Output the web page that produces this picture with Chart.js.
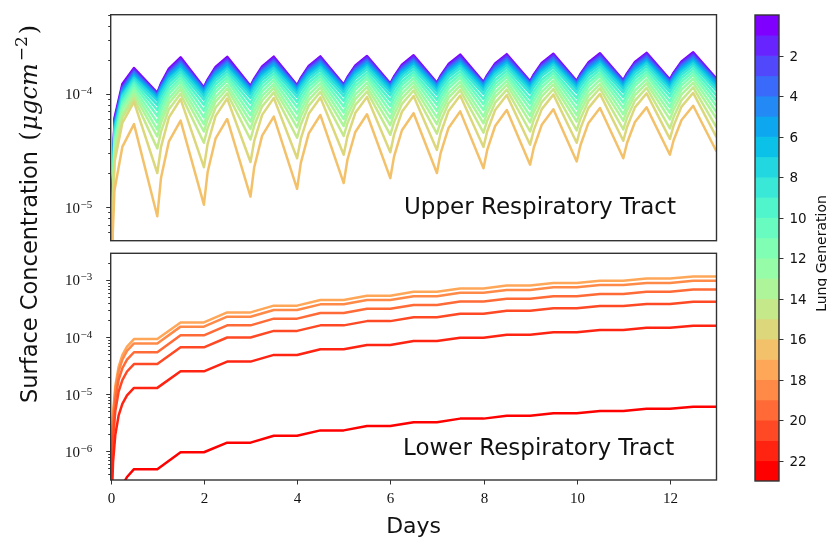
<!DOCTYPE html>
<html>
<head>
<meta charset="utf-8">
<script src="https://cdn.jsdelivr.net/npm/chart.js@4.4.1/dist/chart.umd.min.js"></script>
<style>
  html, body { margin: 0; padding: 0; background: #fff; }
  #wrap { position: relative; width: 827px; height: 539px; }
  #wrap canvas { position: absolute; left: 0; top: 0; }
</style>
</head>
<body>
<div id="wrap">
  <canvas id="upper" width="827" height="539"></canvas>
  <canvas id="lower" width="827" height="539"></canvas>
  <canvas id="cbar" width="827" height="539"></canvas>
</div>
<script>
// all series values are written in units of 1e-6 ug cm^-2
const UNIT = 1e-6;

// lung generations shown in the colour bar, and its tick labels
const generations = [0, 1, 2, 3, 4, 5, 6, 7, 8, 9, 10, 11, 12, 13, 14, 15, 16, 17, 18, 19, 20, 21, 22];
const cbarTicks = [2, 4, 6, 8, 10, 12, 14, 16, 18, 20, 22];

// axis tick labels
const dayTicks = [0, 2, 4, 6, 8, 10, 12];
const upperTickExp = [-5, -4];
const lowerTickExp = [-6, -5, -4, -3];

// ---- upper respiratory tract (generations 0-16) ----
// each day: trough, two points on the rise, peak
const upperDays = [0, 0.08, 0.25, 0.5,
  1, 1.08, 1.25, 1.5,  2, 2.08, 2.25, 2.5,  3, 3.08, 3.25, 3.5,  4, 4.08, 4.25, 4.5,
  5, 5.08, 5.25, 5.5,  6, 6.08, 6.25, 6.5,  7, 7.08, 7.25, 7.5,  8, 8.08, 8.25, 8.5,
  9, 9.08, 9.25, 9.5,  10, 10.08, 10.25, 10.5,  11, 11.08, 11.25, 11.5,  12, 12.08, 12.25, 12.5,
  13];

const upperGen0 = [2, 61, 122, 169,
  102, 123.6, 166.8, 210,  114, 133.6, 172.8, 212,  117, 136.2, 174.6, 213,  119, 138, 176, 214,
  121, 140, 178, 216,  123, 142.2, 180.6, 219,  125, 144.4, 183.2, 222,  127, 146.4, 185.2, 224,
  129, 148.4, 187.2, 226,  130, 149.6, 188.8, 228,  132, 151.6, 190.8, 230,  134, 153.8, 193.4, 233,
  136];
const upperGen1 = [2, 57.4, 116.4, 164,
  100.5, 120.8, 161.4, 202,  112.5, 130.8, 167.4, 204,  115.5, 133.6, 169.8, 206,  117.5, 135.8, 172.4, 209,
  119.5, 137.8, 174.4, 211,  121.5, 139.8, 176.4, 213,  123.5, 141.8, 178.4, 215,  125.5, 144, 181, 218,
  127, 145.6, 182.8, 220,  128, 146.8, 184.4, 222,  130, 148.8, 186.4, 224,  132, 150.8, 188.4, 226,
  134];
const upperGen2 = [2, 55.7, 112.9, 159,
  99, 118.4, 157.2, 196,  111, 128.4, 163.2, 198,  114, 131.2, 165.6, 200,  116, 133.2, 167.6, 202,
  118, 135.2, 169.6, 204,  120, 137.2, 171.6, 206,  122, 139.2, 173.6, 208,  124, 141.4, 176.2, 211,
  125.5, 143, 178, 213,  126.5, 144.2, 179.6, 215,  128, 145.8, 181.4, 217,  129.5, 147.4, 183.2, 219,
  131.5];
const upperGen3 = [2, 54.6, 110.8, 156,
  97.5, 116, 153, 190,  109, 125.6, 158.8, 192,  112, 128.4, 161.2, 194,  114, 130.4, 163.2, 196,
  116, 132.4, 165.2, 198,  118, 134.4, 167.2, 200,  120, 136.4, 169.2, 202,  121.5, 138, 171, 204,
  123, 139.8, 173.4, 207,  124, 141, 175, 209,  125.5, 142.6, 176.8, 211,  127, 144.2, 178.6, 213,
  129];
const upperGen4 = [2, 52.9, 107.2, 151,
  96, 113.6, 148.8, 184,  107, 122.8, 154.4, 186,  110, 125.6, 156.8, 188,  112, 127.6, 158.8, 190,
  114, 129.6, 160.8, 192,  116, 131.6, 162.8, 194,  118, 133.6, 164.8, 196,  119.5, 135.2, 166.6, 198,
  121, 136.8, 168.4, 200,  122, 138, 170, 202,  123, 139.2, 171.6, 204,  124.5, 140.8, 173.4, 206,
  126.5];
const upperGen5 = [2, 51.5, 104.4, 147,
  94, 111, 145, 179,  104, 119.4, 150.2, 181,  107.5, 122.6, 152.8, 183,  109.5, 124.4, 154.2, 184,
  111.5, 126.4, 156.2, 186,  113.5, 128.4, 158.2, 188,  115, 130, 160, 190,  116.5, 131.6, 161.8, 192,
  118, 133.2, 163.6, 194,  119, 134.4, 165.2, 196,  120, 135.6, 166.8, 198,  121, 136.8, 168.4, 200,
  123];
const upperGen6 = [2, 49.7, 100.8, 142,
  91, 107, 139, 171,  101, 115.4, 144.2, 173,  104, 118.2, 146.6, 175,  106, 120.4, 149.2, 178,
  108, 122.4, 151.2, 180,  110, 124.4, 153.2, 182,  111.5, 126, 155, 184,  113, 127.6, 156.8, 186,
  114, 128.8, 158.4, 188,  115, 130, 160, 190,  116, 131.2, 161.6, 192,  117, 132.4, 163.2, 194,
  119];
const upperGen7 = [2, 48.3, 98, 138,
  87, 102.6, 133.8, 165,  96, 110.2, 138.6, 167,  99, 113, 141, 169,  101, 115, 143, 171,
  103, 117, 145, 173,  104.5, 118.6, 146.8, 175,  106, 120.2, 148.6, 177,  107.5, 121.8, 150.4, 179,
  108.5, 123, 152, 181,  109.5, 124.2, 153.6, 183,  110.5, 125.4, 155.2, 185,  111.5, 126.4, 156.2, 186,
  113];
const upperGen8 = [2, 46.2, 93.7, 132,
  80, 95.2, 125.6, 156,  89, 102.8, 130.4, 158,  92, 105.6, 132.8, 160,  94, 107.6, 134.8, 162,
  95.5, 109.2, 136.6, 164,  97, 110.8, 138.4, 166,  98.5, 112.4, 140.2, 168,  100, 114, 142, 170,
  101, 115.2, 143.6, 172,  102, 116.2, 144.6, 173,  103, 117.4, 146.2, 175,  104, 118.6, 147.8, 177,
  106];
const upperGen9 = [2, 41.6, 86.9, 126,
  72, 87, 117, 147,  80, 93.8, 121.4, 149,  83, 96.6, 123.8, 151,  85, 98.4, 125.2, 152,
  86.5, 100, 127, 154,  87.5, 101.2, 128.6, 156,  89, 102.8, 130.4, 158,  90, 104, 132, 160,
  91, 105, 133, 161,  92, 106.2, 134.6, 163,  93.5, 107.8, 136.4, 165,  95, 109.4, 138.2, 167,
  96.5];
const upperGen10 = [2, 39.6, 82.8, 120,
  64, 78.8, 108.4, 138,  71, 84.8, 112.4, 140,  74, 87.6, 114.8, 142,  76, 89.4, 116.2, 143,
  77.5, 91, 118, 145,  78.5, 92.2, 119.6, 147,  80, 93.6, 120.8, 148,  81, 94.8, 122.4, 150,
  82, 96, 124, 152,  83, 97, 125, 153,  84, 98.2, 126.6, 155,  85.5, 99.8, 128.4, 157,
  87];
const upperGen11 = [2, 37, 77.3, 112,
  56, 70.6, 99.8, 129,  62, 75.8, 103.4, 131,  65, 78.4, 105.2, 132,  67, 80.4, 107.2, 134,
  68.5, 82, 109, 136,  69.5, 83, 110, 137,  71, 84.6, 111.8, 139,  72, 85.8, 113.4, 141,
  73, 86.8, 114.4, 142,  74, 88, 116, 144,  75, 89.2, 117.6, 146,  76.5, 90.6, 118.8, 147,
  78];
const upperGen12 = [2, 35, 73.1, 106,
  48.5, 62.6, 90.8, 119,  54, 67.2, 93.6, 120,  57, 70, 96, 122,  58.5, 71.6, 97.8, 124,
  60, 73, 99, 125,  61, 74.2, 100.6, 127,  62, 75.2, 101.6, 128,  63, 76.4, 103.2, 130,
  64, 77.4, 104.2, 131,  65, 78.6, 105.8, 133,  66, 79.6, 106.8, 134,  68, 81.6, 108.8, 136,
  69];
const upperGen13 = [2, 30.7, 66.3, 99,
  42, 55.6, 82.8, 110,  46.5, 59.4, 85.2, 111,  49, 61.8, 87.4, 113,  50.5, 63.2, 88.6, 114,
  52, 64.6, 89.8, 115,  53, 65.8, 91.4, 117,  54, 66.8, 92.4, 118,  55, 68, 94, 120,
  56, 69, 95, 121,  57, 70, 96, 122,  58, 71.2, 97.6, 124,  59.5, 72.6, 98.8, 125,
  60.5];
const upperGen14 = [2, 28.5, 61.6, 92,
  33, 46.4, 73.2, 100,  37, 49.8, 75.4, 101,  39.5, 52.2, 77.6, 103,  41, 53.6, 78.8, 104,
  42.5, 55, 80, 105,  43.5, 56.2, 81.6, 107,  44.5, 57.2, 82.6, 108,  45.5, 58.2, 83.6, 109,
  46.5, 59.2, 84.6, 110,  47.5, 60.4, 86.2, 112,  48.5, 61.4, 87.2, 113,  49.5, 62.4, 88.2, 114,
  50.5];
const upperGen15 = [2, 24.7, 55.3, 85,
  20, 34, 62, 90,  22.5, 36.2, 63.6, 91,  25, 38.4, 65.2, 92,  27, 40.2, 66.6, 93,
  29, 42, 68, 94,  30.5, 43.5, 69.5, 95.5,  32, 44.9, 70.7, 96.5,  34, 46.7, 72.1, 97.5,
  35.5, 48.1, 73.3, 98.5,  37, 49.6, 74.8, 100,  38.5, 51, 76, 101,  40, 52.4, 77.2, 102,
  41.5];
const upperGen16 = [2, 14, 34, 54,
  8.3, 18.2, 38.1, 58,  10.5, 20.4, 40.2, 60,  12.4, 22.5, 42.8, 63,  14.5, 24.6, 44.8, 65,
  16.3, 26.2, 46.1, 66,  18, 27.9, 47.7, 67.5,  20, 30, 50, 70,  22, 32, 52, 72,
  23.7, 33.6, 53.3, 73,  25.3, 35.2, 55.1, 75,  27, 36.8, 56.4, 76,  29, 38.9, 58.7, 78.5,
  31];

const upperSeries = [upperGen0, upperGen1, upperGen2, upperGen3, upperGen4, upperGen5,
  upperGen6, upperGen7, upperGen8, upperGen9, upperGen10, upperGen11, upperGen12,
  upperGen13, upperGen14, upperGen15, upperGen16];

// ---- lower respiratory tract (generations 17-22) ----
const lowerRiseDays = [0, 0.02, 0.05, 0.1, 0.17, 0.25, 0.35];
const plateauStart = [0.5, 1.5, 2.5, 3.5, 4.5, 5.5, 6.5, 7.5, 8.5, 9.5, 10.5, 11.5, 12.5];
const plateauEnd = [1, 2, 3, 4, 5, 6, 7, 8, 9, 10, 11, 12, 13];

const lowerRise17 = [0.01, 0.8, 4.5, 14, 30, 48, 68];
const lowerRise18 = [0.01, 0.67, 3.8, 11.8, 25, 40, 57];
const lowerRise19 = [0.01, 0.47, 2.65, 8.3, 17.7, 28.3, 40];
const lowerRise20 = [0.005, 0.29, 1.64, 5.1, 11, 17.5, 24.8];
const lowerRise21 = [0.002, 0.11, 0.63, 1.95, 4.2, 6.7, 9.45];
const lowerRise22 = [0.0001, 0.004, 0.023, 0.073, 0.156, 0.25, 0.35];

const lowerPlateau17 = [92, 180, 270, 355, 445, 530, 620, 710, 800, 885, 970, 1060, 1150];
const lowerPlateau18 = [77, 152, 227, 298, 374, 445, 520, 595, 670, 745, 815, 890, 970];
const lowerPlateau19 = [54, 107, 160, 210, 263, 313, 365, 420, 470, 520, 570, 625, 680];
const lowerPlateau20 = [33.5, 66, 98, 128, 160, 190, 223, 255, 288, 318, 350, 380, 415];
const lowerPlateau21 = [12.8, 25, 37, 48.5, 61, 72.5, 85, 97, 110, 121, 133, 145, 158];
const lowerPlateau22 = [0.48, 0.95, 1.4, 1.85, 2.3, 2.75, 3.2, 3.7, 4.15, 4.6, 5.05, 5.5, 6.0];

const lowerRises = [lowerRise17, lowerRise18, lowerRise19, lowerRise20, lowerRise21, lowerRise22];
const lowerPlateaus = [lowerPlateau17, lowerPlateau18, lowerPlateau19, lowerPlateau20, lowerPlateau21, lowerPlateau22];

// matplotlib "rainbow" colormap
function rainbow(t) {
  const r = Math.min(1, Math.abs(2 * t - 0.5));
  const g = Math.sin(Math.PI * t);
  const b = Math.cos(Math.PI * t / 2);
  return `rgb(${Math.round(r * 255)},${Math.round(g * 255)},${Math.round(b * 255)})`;
}
const genColor = g => rainbow(g / 22);

function lineDataset(days, values, gen) {
  return {
    data: days.map((d, i) => ({ x: d, y: values[i] * UNIT })),
    borderColor: genColor(gen),
    borderWidth: 2.5,
    borderJoinStyle: 'round',
    pointRadius: 0,
    tension: 0,
    fill: false,
    order: -gen
  };
}

const upperSets = upperSeries.map((vals, i) => lineDataset(upperDays, vals, generations[i]));

const lowerSets = lowerPlateaus.map((plat, i) => {
  const days = lowerRiseDays.slice();
  const vals = lowerRises[i].slice();
  plat.forEach((v, k) => {
    days.push(plateauStart[k], plateauEnd[k]);
    vals.push(v, v);
  });
  return lineDataset(days, vals, generations[17 + i]);
});

const INK = '#111';
const FRAME = '#333';
const SANS = "'DejaVu Sans'";
const SERIF = "'Liberation Serif'";

// frame, log ticks, panel caption and shared axis titles
const panelDecor = {
  id: 'panelDecor',
  afterDraw(chart, args, opts) {
    const { ctx, chartArea: a, scales } = chart;
    const y = scales.y, x = scales.x;
    ctx.save();

    // y ticks (major + minor), outward
    ctx.strokeStyle = FRAME;
    ctx.lineWidth = 1;
    const lo = Math.floor(Math.log10(y.min)), hi = Math.ceil(Math.log10(y.max));
    for (let e = lo; e <= hi; e++) {
      for (let m = 1; m <= 9; m++) {
        const v = m * Math.pow(10, e);
        if (v < y.min || v > y.max) continue;
        const py = Math.round(y.getPixelForValue(v)) + 0.5;
        const len = m === 1 ? 4.5 : 2.5;
        ctx.beginPath();
        ctx.moveTo(a.left - len, py);
        ctx.lineTo(a.left, py);
        ctx.stroke();
      }
    }

    // y tick labels as 10^n
    ctx.fillStyle = INK;
    ctx.textBaseline = 'alphabetic';
    opts.exps.forEach(e => {
      const py = y.getPixelForValue(Math.pow(10, e));
      const sup = '\u2212' + Math.abs(e);
      const right = a.left - 18.5;
      ctx.font = `11px ${SERIF}`;
      const sw = ctx.measureText(sup).width;
      ctx.textAlign = 'left';
      ctx.fillText(sup, right - sw, py + 0.5);
      ctx.font = `15px ${SERIF}`;
      ctx.textAlign = 'right';
      ctx.fillText('10', right - sw - 0.5, py + 5.5);
    });

    // x ticks on the bottom panel
    if (opts.xTicks) {
      ctx.font = `15px ${SERIF}`;
      ctx.textAlign = 'center';
      opts.xTicks.forEach(d => {
        const px = Math.round(x.getPixelForValue(d)) + 0.5;
        ctx.beginPath();
        ctx.moveTo(px, a.bottom);
        ctx.lineTo(px, a.bottom + 4.5);
        ctx.stroke();
        ctx.fillText(String(d), px, a.bottom + 23);
      });
    }

    // frame
    ctx.lineWidth = 1.4;
    ctx.strokeRect(a.left, a.top, a.width, a.height);

    // caption inside the panel
    ctx.font = `23px ${SANS}`;
    ctx.textAlign = 'left';
    ctx.fillText(opts.caption, opts.captionX, opts.captionY);

    if (opts.titles) {
      ctx.font = `22px ${SANS}`;
      ctx.textAlign = 'center';
      ctx.fillText('Days', (a.left + a.right) / 2, 533);

      ctx.save();
      ctx.translate(36.5, 403);
      ctx.rotate(-Math.PI / 2);
      ctx.textAlign = 'left';
      let pos = 0;
      const head = 'Surface Concentration ';
      ctx.font = `22.5px ${SANS}`;
      ctx.fillText(head, pos, 0);
      pos += ctx.measureText(head).width + 3;
      ctx.font = `24px 'DejaVu Serif'`;
      ctx.fillText('(', pos, 0);
      pos += ctx.measureText('(').width + 1;
      ctx.font = `italic 24px 'DejaVu Serif'`;
      ctx.fillText('\u03bcgcm', pos, 0);
      pos += ctx.measureText('\u03bcgcm').width + 2;
      ctx.font = `17px 'DejaVu Serif'`;
      ctx.fillText('\u22122', pos, -10);
      pos += ctx.measureText('\u22122').width + 2;
      ctx.font = `24px 'DejaVu Serif'`;
      ctx.fillText(')', pos, 0);
      ctx.restore();
    }
    ctx.restore();
  }
};

function panelChart(id, datasets, yMin, yMax, padding, decor) {
  return new Chart(document.getElementById(id), {
    type: 'line',
    data: { datasets },
    options: {
      responsive: false,
      animation: false,
      devicePixelRatio: 1,
      events: [],
      layout: { padding },
      plugins: { legend: { display: false }, tooltip: { enabled: false }, panelDecor: decor },
      scales: {
        x: { type: 'linear', min: 0, max: 13, display: false },
        y: { type: 'logarithmic', min: yMin, max: yMax, bounds: 'data', display: false }
      }
    },
    plugins: [panelDecor]
  });
}

panelChart('upper', upperSets, 5.05e-6, 5.0e-4,
  { left: 110.7, top: 14.7, right: 110.5, bottom: 298.3 },
  { exps: upperTickExp, caption: 'Upper Respiratory Tract', captionX: 404, captionY: 213.5 });

panelChart('lower', lowerSets, 3.1e-7, 2.94e-3,
  { left: 110.7, top: 253.3, right: 110.5, bottom: 59 },
  { exps: lowerTickExp, xTicks: dayTicks, caption: 'Lower Respiratory Tract', captionX: 403, captionY: 455, titles: true });

// colour bar: one stacked band per generation
const cbarDecor = {
  id: 'cbarDecor',
  afterDraw(chart) {
    const { ctx, chartArea: a, scales: { y } } = chart;
    ctx.save();
    ctx.strokeStyle = FRAME;
    ctx.fillStyle = INK;
    ctx.lineWidth = 1;
    ctx.font = `13.5px ${SANS}`;
    ctx.textAlign = 'left';
    ctx.textBaseline = 'middle';
    cbarTicks.forEach(v => {
      const py = Math.round(y.getPixelForValue(v)) + 0.5;
      ctx.beginPath();
      ctx.moveTo(a.right, py);
      ctx.lineTo(a.right + 4.5, py);
      ctx.stroke();
      ctx.fillText(String(v), a.right + 10.5, py + 0.5);
    });
    ctx.lineWidth = 1.4;
    ctx.strokeRect(a.left, a.top, a.width, a.height);

    ctx.translate(825.5, 253.5);
    ctx.rotate(-Math.PI / 2);
    ctx.textAlign = 'center';
    ctx.textBaseline = 'alphabetic';
    ctx.font = `14px ${SANS}`;
    ctx.fillText('Lung Generation', 0, 0);
    ctx.restore();
  }
};

new Chart(document.getElementById('cbar'), {
  type: 'bar',
  data: {
    labels: [''],
    datasets: generations.map(g => ({
      data: [1],
      backgroundColor: genColor(g),
      borderWidth: 0,
      barPercentage: 1,
      categoryPercentage: 1
    }))
  },
  options: {
    responsive: false,
    animation: false,
    devicePixelRatio: 1,
    events: [],
    layout: { padding: { left: 755, top: 15, right: 48, bottom: 58 } },
    plugins: { legend: { display: false }, tooltip: { enabled: false } },
    scales: {
      x: { stacked: true, display: false },
      y: { stacked: true, min: 0, max: 23, reverse: true, display: false }
    }
  },
  plugins: [cbarDecor]
});
</script>
</body>
</html>
